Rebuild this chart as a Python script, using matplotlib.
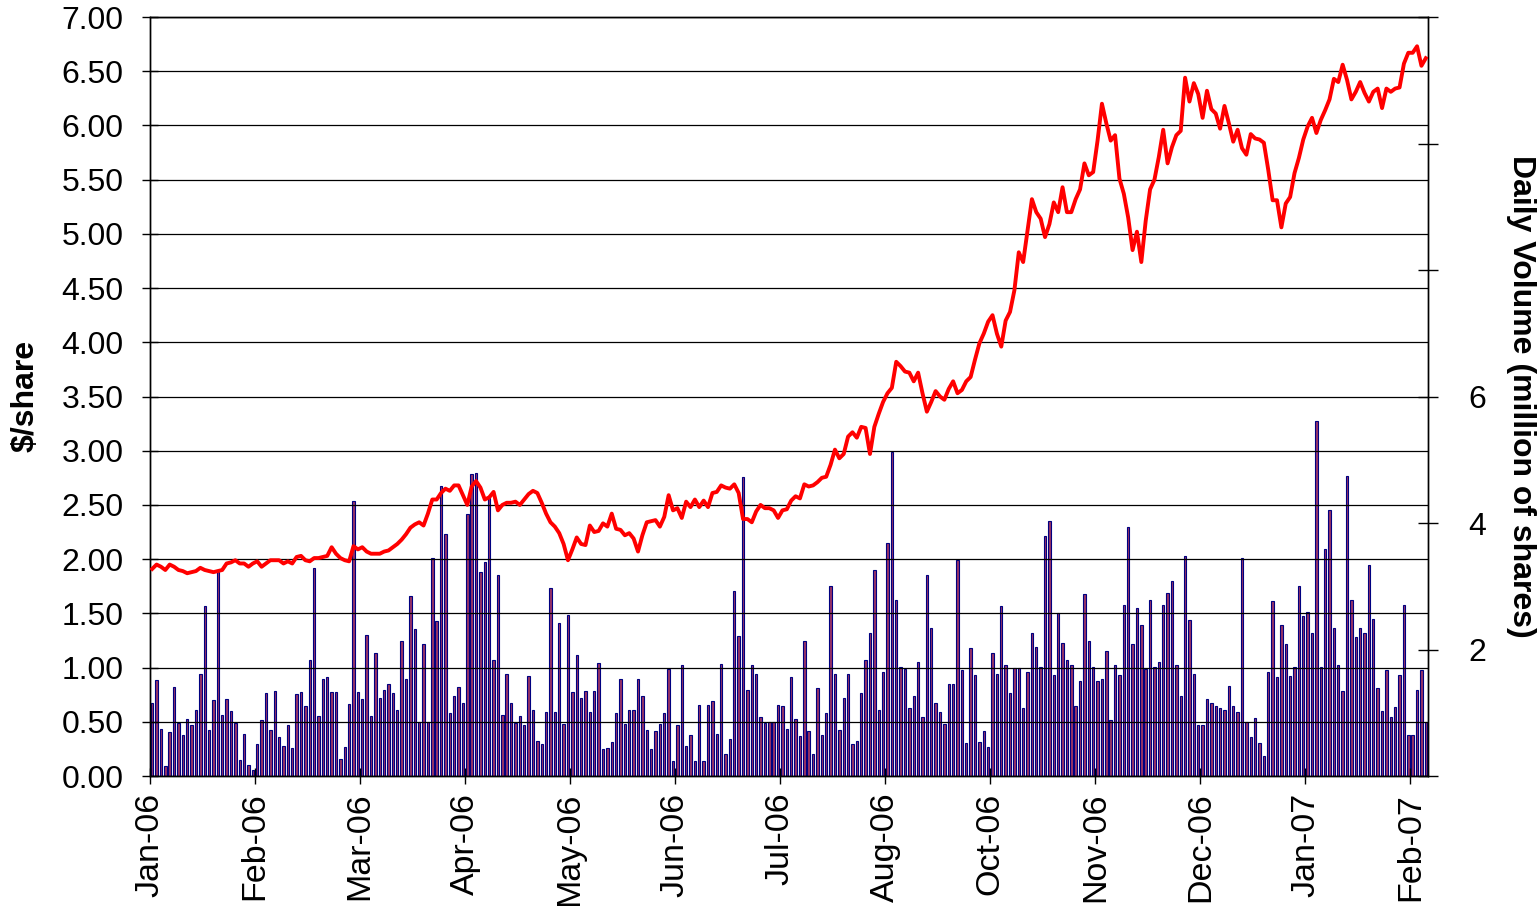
import matplotlib
matplotlib.use("Agg")
from matplotlib import pyplot as plt

plt.rcParams['font.family'] = ['Liberation Sans', 'DejaVu Sans']

# closing price ($/share), one value per trading day
price = [1.91, 1.95, 1.93, 1.90, 1.95, 1.93, 1.90, 1.89, 1.87, 1.88, 1.89, 1.92, 1.90, 1.89, 1.88, 1.89,
         1.90, 1.96, 1.97, 1.99, 1.96, 1.96, 1.93, 1.96, 1.98, 1.93, 1.96, 1.99, 1.99, 1.99, 1.96, 1.98,
         1.96, 2.02, 2.03, 1.99, 1.98, 2.01, 2.01, 2.02, 2.03, 2.11, 2.05, 2.01, 1.99, 1.98, 2.12, 2.09,
         2.11, 2.07, 2.05, 2.05, 2.05, 2.07, 2.08, 2.11, 2.14, 2.18, 2.23, 2.29, 2.32, 2.34, 2.31, 2.42,
         2.55, 2.55, 2.61, 2.65, 2.63, 2.68, 2.68, 2.59, 2.50, 2.67, 2.72, 2.66, 2.55, 2.57, 2.62, 2.45,
         2.50, 2.52, 2.52, 2.53, 2.50, 2.55, 2.60, 2.63, 2.61, 2.52, 2.42, 2.34, 2.30, 2.24, 2.14, 1.99,
         2.09, 2.20, 2.14, 2.13, 2.31, 2.25, 2.26, 2.33, 2.30, 2.42, 2.28, 2.27, 2.22, 2.24, 2.19, 2.07,
         2.22, 2.34, 2.35, 2.36, 2.30, 2.39, 2.59, 2.45, 2.47, 2.38, 2.53, 2.48, 2.55, 2.48, 2.54, 2.48,
         2.61, 2.62, 2.68, 2.66, 2.65, 2.69, 2.61, 2.37, 2.37, 2.34, 2.44, 2.50, 2.47, 2.47, 2.45, 2.38,
         2.45, 2.46, 2.54, 2.58, 2.56, 2.69, 2.67, 2.68, 2.71, 2.75, 2.76, 2.87, 3.01, 2.93, 2.97, 3.13,
         3.17, 3.12, 3.22, 3.21, 2.97, 3.22, 3.34, 3.45, 3.53, 3.58, 3.82, 3.78, 3.73, 3.72, 3.64, 3.72,
         3.53, 3.36, 3.45, 3.55, 3.50, 3.47, 3.57, 3.64, 3.53, 3.56, 3.64, 3.68, 3.84, 3.99, 4.08, 4.19,
         4.25, 4.08, 3.96, 4.20, 4.28, 4.48, 4.83, 4.74, 5.03, 5.32, 5.20, 5.14, 4.97, 5.09, 5.29, 5.20,
         5.43, 5.20, 5.20, 5.32, 5.41, 5.65, 5.54, 5.57, 5.86, 6.20, 6.02, 5.86, 5.91, 5.51, 5.37, 5.15,
         4.85, 5.02, 4.74, 5.12, 5.41, 5.50, 5.71, 5.96, 5.65, 5.80, 5.91, 5.95, 6.44, 6.22, 6.39, 6.29,
         6.07, 6.32, 6.15, 6.11, 5.97, 6.18, 6.02, 5.85, 5.96, 5.79, 5.73, 5.92, 5.88, 5.87, 5.84, 5.59,
         5.31, 5.31, 5.06, 5.28, 5.34, 5.56, 5.70, 5.87, 5.99, 6.07, 5.93, 6.05, 6.14, 6.24, 6.43, 6.40,
         6.56, 6.42, 6.24, 6.31, 6.40, 6.30, 6.22, 6.31, 6.34, 6.16, 6.34, 6.31, 6.34, 6.35, 6.57, 6.67,
         6.67, 6.73, 6.55, 6.62]

# daily volume (million of shares)
volume = [1.16, 1.51, 0.75, 0.16, 0.69, 1.41, 0.84, 0.65, 0.90, 0.80, 1.05, 1.62, 2.68, 0.73, 1.20, 3.22,
          0.97, 1.22, 1.03, 0.84, 0.25, 0.67, 0.18, 0.10, 0.51, 0.88, 1.31, 0.73, 1.35, 0.61, 0.48, 0.80,
          0.44, 1.29, 1.33, 1.10, 1.83, 3.29, 0.95, 1.54, 1.56, 1.33, 1.33, 0.27, 0.46, 1.14, 4.35, 1.33,
          1.22, 2.23, 0.95, 1.94, 1.24, 1.36, 1.45, 1.31, 1.05, 2.13, 1.54, 2.85, 2.32, 0.86, 2.09, 0.86,
          3.44, 2.45, 4.58, 3.82, 0.99, 1.26, 1.41, 1.15, 4.14, 4.77, 4.79, 3.23, 3.39, 4.41, 1.83, 3.18,
          0.97, 1.62, 1.15, 0.84, 0.95, 0.80, 1.58, 1.05, 0.56, 0.50, 1.01, 2.97, 1.01, 2.42, 0.82, 2.55,
          1.33, 1.92, 1.24, 1.35, 1.01, 1.35, 1.79, 0.42, 0.44, 0.54, 0.99, 1.54, 0.82, 1.05, 1.05, 1.54,
          1.26, 0.73, 0.42, 0.71, 0.82, 0.99, 1.69, 0.23, 0.80, 1.75, 0.48, 0.65, 0.23, 1.13, 0.23, 1.13,
          1.18, 0.67, 1.77, 0.35, 0.58, 2.93, 2.21, 4.73, 1.36, 1.75, 1.62, 0.94, 0.84, 0.86, 0.86, 1.13,
          1.11, 0.75, 1.56, 0.90, 0.63, 2.13, 0.71, 0.35, 1.39, 0.65, 0.99, 3.01, 1.62, 0.73, 1.24, 1.62,
          0.50, 0.56, 1.31, 1.83, 2.26, 3.25, 1.05, 1.64, 3.69, 5.13, 2.78, 1.73, 1.69, 1.07, 1.26, 1.81,
          0.94, 3.17, 2.34, 1.15, 1.01, 0.82, 1.45, 1.45, 3.42, 1.67, 0.52, 2.02, 1.60, 0.54, 0.71, 0.46,
          1.94, 1.62, 2.68, 1.75, 1.31, 1.71, 1.71, 1.07, 1.64, 2.26, 2.04, 1.73, 3.80, 4.03, 1.60, 2.57,
          2.11, 1.83, 1.75, 1.11, 1.50, 2.87, 2.13, 1.73, 1.50, 1.54, 1.98, 0.88, 1.75, 1.60, 2.70, 3.93,
          2.09, 2.66, 2.38, 1.69, 2.78, 1.73, 1.81, 2.70, 2.89, 3.08, 1.75, 1.26, 3.48, 2.47, 1.62, 0.80,
          0.80, 1.22, 1.15, 1.11, 1.07, 1.05, 1.43, 1.11, 1.01, 3.44, 0.86, 0.61, 0.92, 0.52, 0.31, 1.64,
          2.76, 1.56, 2.38, 2.09, 1.58, 1.73, 3.01, 2.53, 2.59, 2.26, 5.62, 1.73, 3.59, 4.20, 2.34, 1.75,
          1.35, 4.75, 2.78, 2.19, 2.34, 2.26, 3.34, 2.49, 1.39, 1.03, 1.67, 0.94, 1.09, 1.60, 2.70, 0.65,
          0.65, 1.36, 1.67, 0.86]

month_labels = ["Jan-06", "Feb-06", "Mar-06", "Apr-06", "May-06", "Jun-06", "Jul-06",
                "Aug-06", "Oct-06", "Nov-06", "Dec-06", "Jan-07", "Feb-07"]
days_per_label = 24

days = list(range(len(price)))

fig = plt.figure(figsize=(15.39, 9.06), dpi=100)
ax2 = fig.add_axes([150 / 1539, 1 - 776 / 906, 1278 / 1539, 759 / 906])
ax = ax2.twinx()
# price axis on the left, volume axis on the right, line above bars
ax.yaxis.tick_left()
ax2.yaxis.tick_right()

ax2.bar(days, volume, width=0.55, color="#993366", edgecolor="#000080", linewidth=0.8)
ax2.set_ylim(0, 12)
ax2.set_yticks(range(0, 13, 2))
ax2.set_yticklabels(["", "2", "4", "6", "", "", ""])

for i in range(15):
    ax.axhline(i * 0.5, color="black", linewidth=0.9, zorder=0)
ax.plot(days, price, color="#ff0000", linewidth=2.8, zorder=3)
ax.set_ylim(0, 7)
ax.set_yticks([i * 0.5 for i in range(15)])
ax.set_yticklabels(["%.2f" % (i * 0.5) for i in range(15)])

ax.set_xlim(-0.5, len(price) - 0.5)
xt = [-0.5 + days_per_label * k for k in range(len(month_labels))]
ax2.set_xticks(xt)
ax2.set_xticklabels(month_labels, rotation=90, fontsize=24.5)

ax.tick_params(axis="y", labelsize=23, direction="inout", length=12, width=1, pad=13)
ax2.tick_params(axis="y", labelsize=23, direction="inout", length=14, width=1, pad=22)
ax2.tick_params(axis="x", direction="inout", length=12, width=1, pad=6)

for a in (ax, ax2):
    for s in a.spines.values():
        s.set_linewidth(1)
        s.set_color("black")

fig.text(26 / 1539, 1 - 396 / 906, "$/share", rotation=90, fontsize=23, fontweight="bold",
         ha="center", va="center")
fig.text(1521 / 1539, 1 - 396 / 906, "Daily Volume (million of shares)", rotation=270,
         fontsize=23, fontweight="bold", ha="center", va="center")

plt.savefig("out.png", dpi=100)
